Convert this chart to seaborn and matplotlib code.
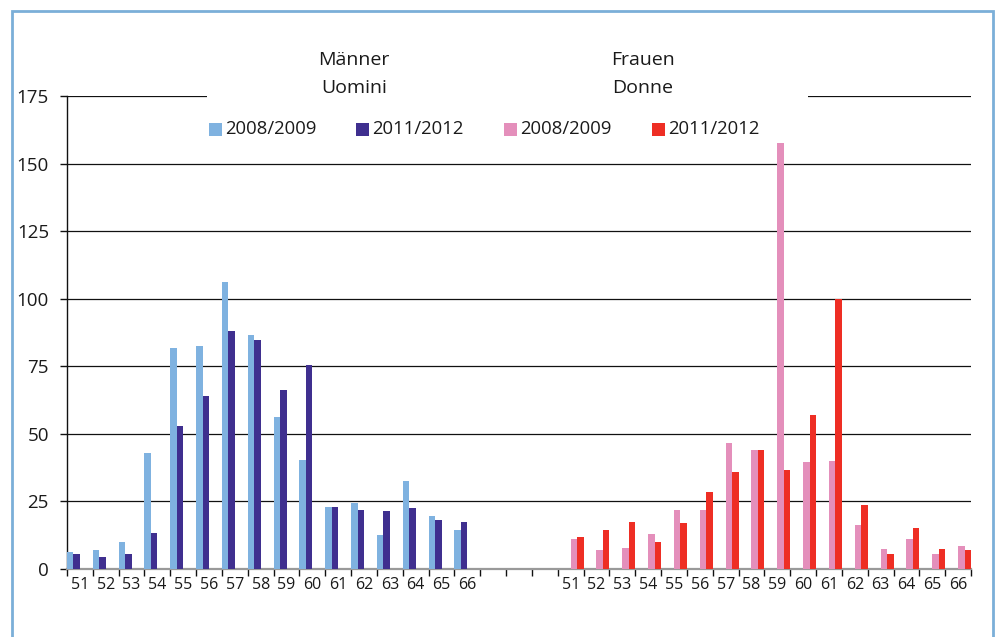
import matplotlib
matplotlib.use("Agg")
import matplotlib.pyplot as plt
import seaborn as sns
import pandas as pd
import numpy as np
from matplotlib.patches import Rectangle
from matplotlib.ticker import FixedLocator, NullFormatter

ages = [str(a) for a in range(51, 67)]
men_2008 = [6.3, 7.0, 10.0, 42.9, 81.8, 82.5, 106.2, 86.6, 56.2, 40.3, 22.9, 24.4, 12.6, 32.6, 19.6, 14.4]
men_2011 = [5.5, 4.4, 5.5, 13.3, 52.9, 64.0, 88.1, 84.7, 66.2, 75.5, 22.9, 21.8, 21.5, 22.6, 18.1, 17.4]
women_2008 = [11.1, 7.0, 7.8, 12.9, 21.8, 21.8, 46.6, 44.0, 157.6, 39.6, 40.0, 16.3, 7.4, 11.1, 5.5, 8.5]
women_2011 = [11.8, 14.4, 17.4, 10.0, 17.0, 28.5, 35.9, 44.0, 36.6, 57.0, 100.0, 23.7, 5.5, 15.2, 7.4, 7.0]
yticks = [0, 25, 50, 75, 100, 125, 150, 175]
legend_labels = ["2008/2009", "2011/2012", "2008/2009", "2011/2012"]
colors = ["#7fb2e0", "#3f2f8f", "#e48fbb", "#ee2e24"]

men_cats = ["M" + a for a in ages]
women_cats = ["F" + a for a in ages]
gap_cats = ["G1", "G2", "G3"]
order = men_cats + gap_cats + women_cats
hue_order = ["M08", "M11", "F08", "F11"]

rows = []
for c, v in zip(men_cats, men_2008):
    rows.append((c, "M08", v))
for c, v in zip(men_cats, men_2011):
    rows.append((c, "M11", v))
for c, v in zip(women_cats, women_2008):
    rows.append((c, "F08", v))
for c, v in zip(women_cats, women_2011):
    rows.append((c, "F11", v))
df = pd.DataFrame(rows, columns=["cat", "grp", "val"])

sns.set_theme(style="white")
plt.rcParams["font.family"] = ["Open Sans", "DejaVu Sans"]

fig = plt.figure(figsize=(10, 6.37), dpi=100)
W, H = 1000, 637
ax = fig.add_axes([67 / W, 1 - 569 / H, (971 - 67) / W, (569 - 96) / H])

sns.barplot(data=df, x="cat", y="val", hue="grp", order=order, hue_order=hue_order,
            palette=dict(zip(hue_order, colors)), width=1.0, gap=0, dodge=True,
            saturation=1, errorbar=None, legend=False, ax=ax, zorder=3)
for p in ax.patches:
    p.set_linewidth(0)

ax.set_xlim(-0.5, len(order) - 0.5)
ax.set_ylim(0, 175)
ax.set_yticks(yticks)
ax.set_yticklabels([str(t) for t in yticks], fontsize=13.5, color="#1a1a1a")
ax.yaxis.grid(True, color="#111111", linewidth=0.9)
ax.set_axisbelow(True)

labels = [a for a in ages] + ["", "", ""] + [a for a in ages]
ax.set_xticks(range(len(order)))
ax.set_xticklabels(labels, fontsize=11.5, color="#1a1a1a")
ax.tick_params(axis="x", which="major", length=0, pad=6)
ax.xaxis.set_minor_locator(FixedLocator(np.arange(-0.5, len(order), 1.0)))
ax.xaxis.set_minor_formatter(NullFormatter())
ax.tick_params(axis="x", which="minor", length=5, width=1, color="#111111", direction="out", bottom=True)
ax.tick_params(axis="y", which="major", length=5, width=1, color="#111111", direction="out", left=True, pad=8)
ax.set_xlabel("")
ax.set_ylabel("")

for s in ["top", "right"]:
    ax.spines[s].set_visible(False)
ax.spines["left"].set_color("#111111")
ax.spines["left"].set_linewidth(1.0)
ax.spines["bottom"].set_color("#999999")
ax.spines["bottom"].set_linewidth(1.6)

# white box behind titles/legend (hides the top gridline in that span)
fig.patches.append(Rectangle((207 / W, 1 - 112 / H), (808 - 207) / W, 70 / H,
                             transform=fig.transFigure, facecolor="white",
                             edgecolor="none", zorder=5))
# outer frame
fig.patches.append(Rectangle((12 / W, -0.05), (993 - 12) / W, 1 - 11 / H + 0.05,
                             transform=fig.transFigure, facecolor="none",
                             edgecolor="#7bafd8", linewidth=2, zorder=6))

fig.text(354 / W, 1 - 60 / H, "Männer", ha="center", va="center", fontsize=14, color="#1a1a1a", zorder=7)
fig.text(354 / W, 1 - 88 / H, "Uomini", ha="center", va="center", fontsize=14, color="#1a1a1a", zorder=7)
fig.text(643 / W, 1 - 60 / H, "Frauen", ha="center", va="center", fontsize=14, color="#1a1a1a", zorder=7)
fig.text(643 / W, 1 - 88 / H, "Donne", ha="center", va="center", fontsize=14, color="#1a1a1a", zorder=7)

sq_x = [209, 356, 504, 652]
for x, lab, c in zip(sq_x, legend_labels, colors):
    fig.patches.append(Rectangle((x / W, 1 - 136 / H), 13 / W, 13 / H,
                                 transform=fig.transFigure, facecolor=c,
                                 edgecolor="none", zorder=7))
    fig.text((x + 16) / W, 1 - 129.5 / H, lab, ha="left", va="center", fontsize=13.3,
             color="#1a1a1a", zorder=7)

fig.savefig("out.png", dpi=100, facecolor="white")
